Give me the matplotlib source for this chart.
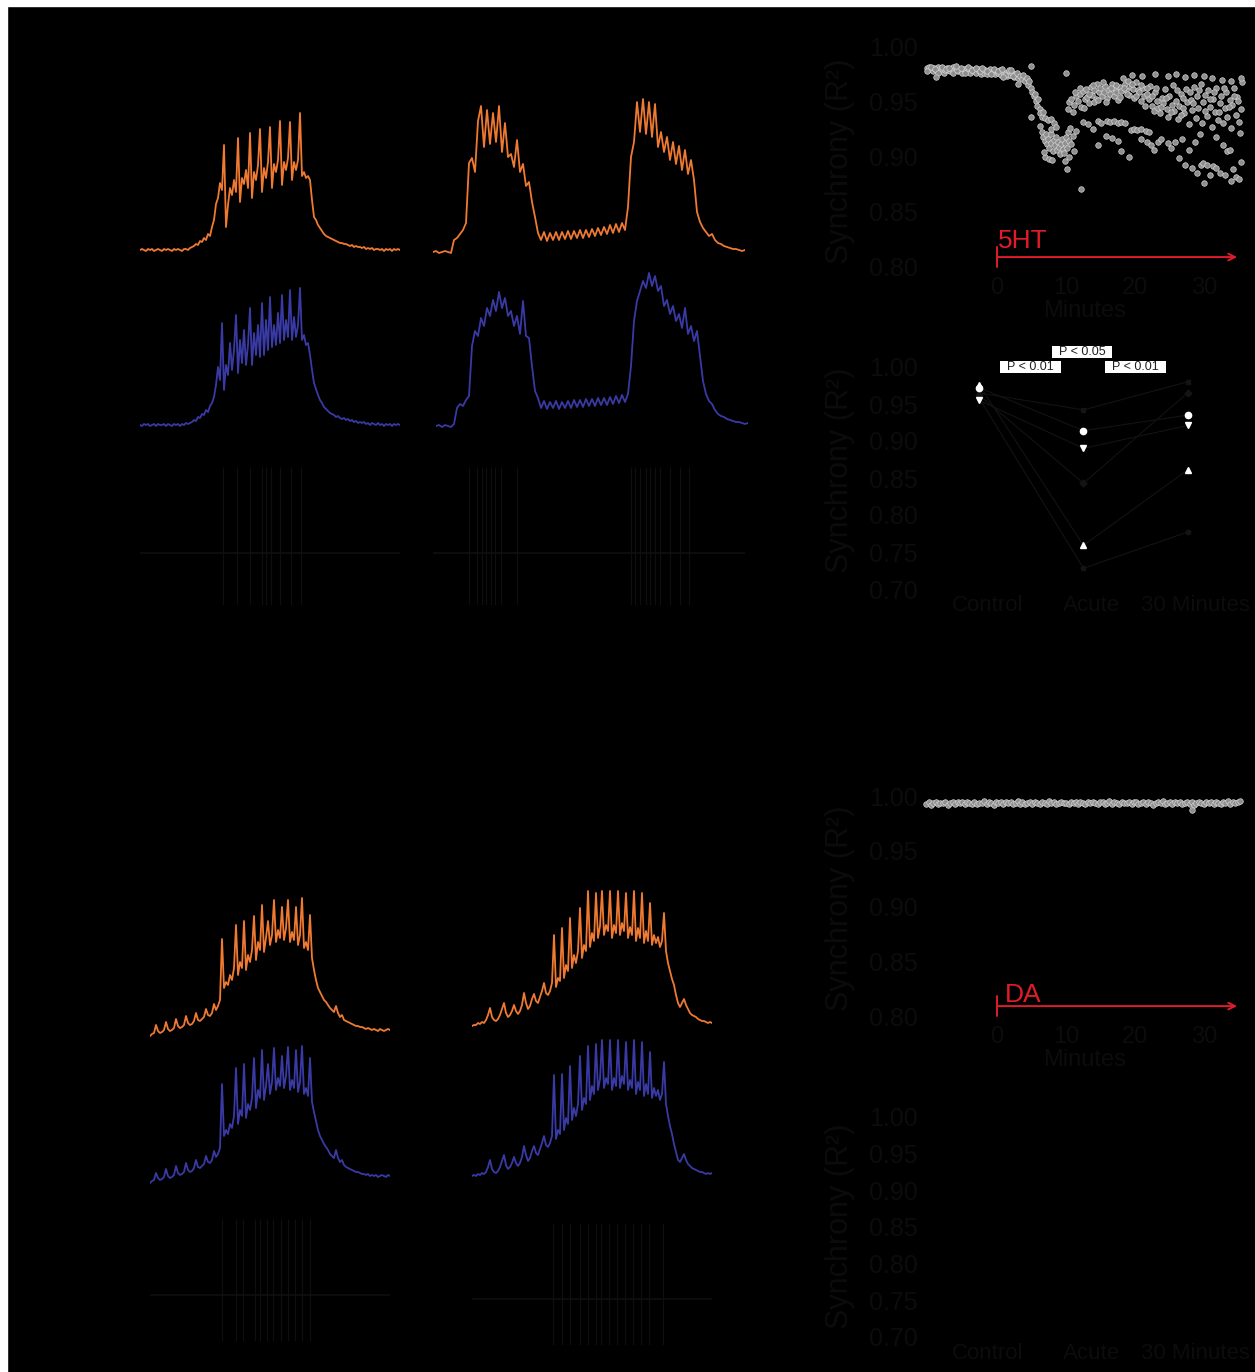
import numpy as np
import matplotlib
matplotlib.use("Agg")
import matplotlib.pyplot as plt
from matplotlib.patches import Rectangle
from matplotlib.transforms import ScaledTranslation

plt.rcParams['font.family'] = ['Liberation Sans', 'DejaVu Sans']

W, H = 1255, 1372
DARK = '#0c0c0c'
FAINT = '#0f0f0f'
ORANGE = '#f07a32'
BLUE = '#3a3aa6'
RED = '#e01c2b'

# ---- membrane traces, height above rest (a.u.), 5HT condition (top) ----
o1 = [0, 1, 0, -1, 1, 0, 1, -1, 0, 1, 0, -1, 1, 0, 1, 0, -1, 1, 0, 1, 0, -1, 1, 1, 0, 2, 3,
      4, 6, 5, 9, 8, 12, 10, 16, 14, 23, 30,
      46, 52, 67, 60, 105, 23, 45,
      62, 55, 70, 58, 112, 48, 72, 66, 80, 62, 117, 52, 78, 70, 85, 121, 58, 82, 72, 88,
      123, 62, 86, 78, 90, 129, 65, 88, 80, 92, 128, 70, 88, 80, 90, 137, 74, 78, 72, 74, 70,
      50, 33, 30, 25, 22, 19, 16, 14, 13, 12, 11, 10, 9, 8, 7, 7, 6, 6, 5, 4,
      5, 3, 4, 3, 3, 2, 3, 1, 2, 1, 2, 0, 1, 1, 0, 1, -1, 1, 0, 1, -1, 1, 0, 1, 0]
b1 = [0, -1, 1, 0, 1, -1, 0, 1, -1, 1, 0, 0, 1, -1, 1, 0, -1, 1, 0, 1, -1, 1, 0, 2, 1, 2, 3,
      5, 4, 8, 7, 11, 10, 15, 13, 19, 22, 28,
      40, 58, 45, 102, 35, 60, 50,
      82, 55, 75, 110, 52, 85, 62, 95, 60, 80, 117, 60, 92, 70, 100, 68, 122, 70, 105, 75,
      128, 78, 100, 80, 112, 82, 130, 85, 105, 88, 135, 85, 108, 88, 100, 137, 85, 90, 80, 82, 70,
      55, 42, 36, 30, 25, 22, 18, 16, 14, 12, 11, 10, 8, 9, 7, 6, 7, 5, 6, 4,
      5, 3, 4, 2, 3, 2, 3, 1, 2, 0, 2, 1, 0, 2, 0, 1, -1, 1, 0, 1, -1, 1, 0, 1, 0]
o2 = [0, 1, -1, 0, 1, 0, -1,
      12, 14, 18, 22, 29,
      89, 94, 80, 131, 146, 105, 142, 108, 139, 110, 146, 100, 129, 95, 98, 85, 112, 80, 88, 66,
      70, 50, 35, 19,
      12, 20, 11, 19, 12, 20, 12, 20, 13, 21, 13, 21, 14, 22, 14, 22, 15, 23, 16, 24,
      17, 25, 18, 27, 19, 28, 20, 29, 22,
      45, 95, 110, 150, 120, 153, 118, 150, 115, 148, 105, 120, 100, 115, 92, 110, 88, 106, 82, 102,
      78, 92, 72, 40, 30, 24, 20, 16, 18, 12, 9, 8, 6, 5, 4, 3, 3, 2, 1, 2]
b2 = [0, 1, -1, 1, 0, -1,
      2, 18, 22, 20, 26, 30, 80, 95, 90, 108, 100, 118, 110, 126, 115, 134, 118, 128, 110, 115,
      100, 110, 92, 125, 90, 88, 60, 35, 28,
      18, 25, 17, 24, 18, 25, 17, 24, 18, 25, 18, 26, 19, 26, 19, 27, 20, 27, 20, 28,
      21, 28, 21, 29, 22, 30, 23, 31, 24, 32,
      60, 105, 125, 135, 145, 138, 153, 140, 150, 135, 140, 120, 126, 112, 120, 105, 112, 98, 118, 92,
      100, 85, 95, 70, 45, 32, 25, 22, 16, 12, 10, 9, 7, 6, 5, 4, 4, 3, 2, 3]

# ---- DA condition (bottom) ----
o3 = [-6, -4, -3, 5, -1, -3, -2, 0, 8, 1, -1, 0, 2, 11, 4, 2, 3, 5, 14, 7,
      5, 6, 9, 17, 10, 9, 11, 13, 21, 15, 14, 17, 26, 20, 24, 30,
      91, 42, 48, 45, 55, 50, 62, 105, 55, 68, 62, 109, 60, 75, 68, 80, 114, 70, 88, 80,
      125, 78, 92, 109, 85, 95, 130, 88, 100, 92, 123, 90, 102, 130, 88, 98, 90, 123, 85, 95,
      132, 82, 88, 80, 115, 72,
      60, 50, 42, 38, 34, 30, 28, 25, 22, 20, 18, 24, 17, 13, 15, 10, 9, 8, 7, 6,
      5, 4, 4, 3, 3, 2, 1, 2, 1, 0, 1, 0, -1, 1, 0, -1, 0, 1, 0]
b3 = [-7, -5, -4, 3, -2, -4, -3, -1, 7, 0, -2, -1, 1, 10, 3, 1, 2, 4, 13, 6,
      4, 5, 8, 16, 9, 8, 10, 12, 20, 14, 13, 16, 25, 19, 22, 28,
      92, 40, 46, 42, 52, 48, 60, 108, 52, 66, 60, 112, 58, 72, 66, 78, 118, 68, 86, 78,
      126, 76, 90, 112, 82, 94, 128, 86, 98, 90, 120, 88, 100, 129, 86, 96, 88, 126, 84, 94,
      130, 82, 88, 80, 118, 74,
      64, 55, 46, 40, 36, 32, 29, 26, 22, 20, 18, 26, 18, 14, 16, 11, 9, 8, 7, 6,
      5, 4, 4, 3, 2, 2, 1, 2, 0, 1, 0, 1, -1, 0, 1, 0, -1, 1, 0]
o4 = [-3, -2, -2, 0, -1, 1, 0, 3, 8, 15, 6, 3, 2, 4, 8, 14, 20, 10, 6, 8,
      12, 18, 12, 9, 12, 18, 30, 20, 14, 17, 24, 29, 22, 20, 26, 32, 40, 30, 28, 32,
      40, 88, 36, 45, 42, 95, 45, 58, 52, 105, 55, 68, 60, 72, 115, 65, 78, 72, 132, 76,
      90, 82, 130, 85, 97, 132, 88, 98, 92, 132, 85, 98, 90, 132, 88, 100, 92, 130, 85, 96,
      88, 132, 82, 95, 85, 130, 80, 92, 82, 120, 78, 88, 80, 86, 76, 82, 110, 72, 60,
      52, 44, 38, 28, 20, 16, 20, 24, 18, 14, 10, 8, 7, 6, 4, 3, 2, 2, 1, 0, 1, 0]
b4 = [-2, -1, -2, 0, -1, 1, 0, 2, 7, 14, 5, 2, 1, 3, 7, 13, 19, 9, 5, 7,
      11, 17, 11, 8, 11, 17, 28, 19, 13, 16, 23, 28, 21, 19, 25, 31, 38, 29, 27, 31,
      38, 99, 35, 44, 40, 100, 44, 56, 50, 108, 54, 66, 58, 70, 118, 64, 76, 70, 128, 74,
      88, 80, 130, 84, 95, 134, 86, 96, 90, 134, 84, 96, 88, 134, 86, 98, 90, 132, 84, 94,
      86, 134, 80, 92, 84, 132, 78, 90, 80, 122, 76, 86, 78, 84, 74, 80, 112, 70, 58,
      48, 40, 30, 22, 14, 12, 16, 20, 14, 10, 8, 6, 5, 4, 3, 2, 2, 1, 0, 1, 0, 1]

# spike times (ms from trace start) for the extracellular rows
sp1 = [83, 97, 110, 122, 126, 131, 140, 151, 161]
sp2 = [36, 44, 49, 53, 58, 62, 68, 84, 198, 202, 207, 213, 217, 222, 227, 237, 247, 256]
sp3 = [72, 86, 93, 105, 110, 117, 123, 131, 138, 145, 152, 160]
sp4 = [81, 90, 98, 108, 116, 124, 129, 137, 145, 153, 161, 169, 177, 191]

# ---- synchrony over time, 5HT ----
base_min = [-10.2, -10.0, -9.8, -9.5, -9.3, -9.1, -8.9, -8.6, -8.4, -8.2,
            -8.0, -7.7, -7.5, -7.3, -7.1, -6.8, -6.6, -6.4, -6.2, -5.9,
            -5.7, -5.5, -5.3, -5.0, -4.8, -4.6, -4.4, -4.1, -3.9, -3.7,
            -3.5, -3.2, -3.0, -2.8, -2.6, -2.3, -2.1, -1.9, -1.7, -1.4,
            -1.2, -1.0, -0.8, -0.5, -0.3, -0.1, 0.1, 0.4, 0.6, 0.8,
            1.0, 1.3, 1.5, 1.7, 1.9, 2.2, 2.4, 2.6, 2.8, 3.1,
            -10.1, -9.6, -9.0, -8.5, -7.9, -7.4, -6.9, -6.3, -5.8, -5.2,
            -4.7, -4.2, -3.6, -3.1, -2.5, -2.0, -1.5, -0.9, -0.4, 0.2,
            0.7, 1.2, 1.8, 2.3, 2.9, -8.9, -6.0, -2.2, 0.9, 2.0]
base_val = [0.980, 0.978, 0.981, 0.979, 0.977, 0.980, 0.978, 0.981, 0.979, 0.977,
            0.979, 0.976, 0.978, 0.980, 0.978, 0.977, 0.979, 0.981, 0.978, 0.980,
            0.977, 0.979, 0.978, 0.976, 0.979, 0.977, 0.980, 0.978, 0.976, 0.979,
            0.977, 0.978, 0.976, 0.979, 0.977, 0.975, 0.978, 0.976, 0.978, 0.975,
            0.977, 0.979, 0.976, 0.978, 0.975, 0.977, 0.976, 0.978, 0.974, 0.977,
            0.975, 0.976, 0.973, 0.977, 0.974, 0.976, 0.972, 0.975, 0.973, 0.971,
            0.977, 0.981, 0.979, 0.976, 0.981, 0.979, 0.980, 0.976, 0.978, 0.980,
            0.976, 0.981, 0.978, 0.980, 0.977, 0.979, 0.977, 0.975, 0.979, 0.977,
            0.979, 0.974, 0.978, 0.973, 0.976, 0.972, 0.982, 0.980, 0.972, 0.978]
dip_min = [3.3, 3.6, 3.8, 4.0, 4.3, 4.5, 4.7, 5.0, 5.1, 5.3,
           5.5, 5.7, 5.8, 6.0, 6.2, 6.3, 6.5, 6.7, 7.0, 7.4,
           7.9, 8.2, 4.9, 3.0, 5.0, 6.3, 6.5, 6.7, 6.9, 7.1,
           7.2, 7.4, 7.6, 7.8, 7.9, 8.1, 8.2, 8.4, 8.5, 8.7,
           8.8, 9.0, 9.1, 9.3, 9.4, 9.6, 9.7, 9.9, 10.0, 10.2,
           10.3, 10.5, 10.6, 10.8, 11.0, 11.2, 11.4, 7.0, 7.5, 8.0,
           6.8, 9.8, 10.5, 10.1, 12.2, 7.9, 8.6, 10.0]
dip_val = [0.973, 0.970, 0.974, 0.968, 0.971, 0.965, 0.968, 0.962, 0.958, 0.955,
           0.957, 0.950, 0.946, 0.952, 0.943, 0.939, 0.936, 0.940, 0.935, 0.933,
           0.934, 0.930, 0.982, 0.966, 0.936, 0.928, 0.922, 0.918, 0.914, 0.920,
           0.911, 0.916, 0.908, 0.912, 0.920, 0.905, 0.915, 0.910, 0.918, 0.906,
           0.913, 0.909, 0.902, 0.911, 0.916, 0.907, 0.903, 0.912, 0.918, 0.908,
           0.922, 0.914, 0.926, 0.911, 0.919, 0.905, 0.923, 0.900, 0.898, 0.897,
           0.904, 0.896, 0.900, 0.889, 0.871, 0.925, 0.927, 0.976]
up_min = [10.3, 10.5, 10.8, 11.0, 11.2, 11.5, 11.7, 12.0, 12.2, 12.4,
          12.7, 12.9, 13.1, 13.4, 13.6, 13.8, 14.1, 14.3, 14.5, 14.8,
          15.0, 15.2, 15.5, 15.7, 15.9, 16.2, 16.4, 16.6, 16.9, 17.1,
          17.3, 17.6, 17.8, 18.0, 18.3, 18.5, 18.7, 19.0, 19.2, 19.4,
          19.7, 19.9, 20.1, 20.4, 20.6, 20.8, 21.1, 21.3, 21.5, 21.8,
          22.0, 22.2, 22.5, 22.7, 22.9, 23.2, 23.4, 23.6, 23.9, 24.1,
          24.3, 24.6, 24.8, 25.0, 25.3, 25.5, 25.7, 26.0, 26.2, 26.4,
          26.7, 26.9, 27.1, 27.4, 27.6, 27.8, 28.1, 28.3, 28.5, 28.8,
          29.0, 29.2, 29.5, 29.7, 29.9, 30.2, 30.4, 30.6, 30.9, 31.1,
          31.3, 31.6, 31.8, 32.0, 32.3, 32.5, 32.7, 33.0, 33.2, 33.4,
          33.7, 33.9, 34.1, 34.4, 34.6, 34.8, 35.1, 35.3, 35.5, 14.0,
          19.5, 21.0, 22.9, 24.8, 25.9, 27.3, 28.6, 30.0, 31.2, 32.6,
          33.9, 35.4, 11.3, 12.1, 12.6, 13.3, 13.9, 14.7, 15.3, 15.8,
          16.5, 17.2, 17.9, 18.4, 18.9, 19.6, 20.2, 20.9, 21.7, 22.4,
          23.1, 23.8, 24.5, 25.2, 26.1, 26.6, 27.0, 27.9, 28.4, 29.3,
          30.1, 30.8, 31.5, 32.2, 32.9, 33.6, 34.3, 35.0]
up_val = [0.943, 0.949, 0.952, 0.940, 0.947, 0.955, 0.950, 0.957, 0.945, 0.959,
          0.952, 0.961, 0.954, 0.948, 0.963, 0.956, 0.960, 0.952, 0.966, 0.958,
          0.962, 0.955, 0.958, 0.964, 0.953, 0.960, 0.957, 0.966, 0.955, 0.961,
          0.958, 0.951, 0.963, 0.959, 0.971, 0.966, 0.960, 0.968, 0.956, 0.963,
          0.961, 0.953, 0.967, 0.960, 0.958, 0.950, 0.962, 0.955, 0.946, 0.957,
          0.952, 0.964, 0.946, 0.941, 0.958, 0.950, 0.944, 0.939, 0.953, 0.948,
          0.961, 0.943, 0.936, 0.955, 0.947, 0.965, 0.941, 0.950, 0.934, 0.946,
          0.957, 0.944, 0.939, 0.961, 0.949, 0.929, 0.951, 0.942, 0.963, 0.935,
          0.955, 0.944, 0.966, 0.930, 0.949, 0.956, 0.937, 0.960, 0.945, 0.927,
          0.952, 0.940, 0.962, 0.933, 0.948, 0.955, 0.930, 0.944, 0.958, 0.936,
          0.951, 0.926, 0.947, 0.962, 0.938, 0.954, 0.931, 0.943, 0.967, 0.949,
          0.974, 0.973, 0.975, 0.973, 0.975, 0.972, 0.974, 0.973, 0.971, 0.969,
          0.968, 0.971, 0.958, 0.962, 0.944, 0.957, 0.965, 0.951, 0.967, 0.949,
          0.962, 0.965, 0.954, 0.962, 0.957, 0.966, 0.955, 0.965, 0.962, 0.955,
          0.962, 0.945, 0.953, 0.940, 0.960, 0.938, 0.953, 0.958, 0.948, 0.960,
          0.941, 0.952, 0.958, 0.940, 0.962, 0.945, 0.955, 0.950]
mid_min = [12.5, 13.2, 13.9, 14.6, 15.1, 15.9, 16.4, 17.0, 17.5, 18.0,
           18.6, 19.4, 19.9, 20.3, 20.8, 21.6, 22.1]
mid_val = [0.931, 0.929, 0.925, 0.932, 0.930, 0.932, 0.931, 0.932, 0.930, 0.931,
           0.930, 0.924, 0.925, 0.924, 0.925, 0.923, 0.922]
low_min = [14.6, 15.8, 16.6, 17.6, 18.0, 19.2, 20.9, 21.8, 22.3, 22.8,
           23.3, 23.8, 24.8, 25.2, 25.8, 26.4, 26.8, 27.3, 27.8, 28.2,
           28.7, 29.0, 29.5, 29.9, 30.4, 30.8, 31.3, 31.8, 32.3, 32.8,
           33.1, 33.4, 33.7, 33.9, 34.2, 34.6, 35.1, 35.4, 30.0, 31.7,
           29.4, 35.2]
low_val = [0.910, 0.919, 0.917, 0.914, 0.905, 0.900, 0.916, 0.913, 0.910, 0.906,
           0.913, 0.916, 0.912, 0.908, 0.913, 0.899, 0.916, 0.892, 0.906, 0.890,
           0.913, 0.885, 0.892, 0.894, 0.892, 0.883, 0.891, 0.890, 0.885, 0.910,
           0.883, 0.905, 0.906, 0.878, 0.889, 0.881, 0.880, 0.895, 0.876, 0.918,
           0.920, 0.921]

# ---- synchrony over time, DA ----
da_min = [-10.3, -9.9, -9.6, -9.2, -8.9, -8.5, -8.2, -7.8, -7.5, -7.1,
          -6.8, -6.4, -6.1, -5.7, -5.4, -5.0, -4.7, -4.3, -4.0, -3.6,
          -3.3, -2.9, -2.6, -2.2, -1.9, -1.5, -1.2, -0.8, -0.5, -0.1,
          0.2, 0.6, 0.9, 1.3, 1.6, 2.0, 2.3, 2.7, 3.0, 3.4,
          3.7, 4.1, 4.4, 4.8, 5.1, 5.5, 5.8, 6.2, 6.5, 6.9,
          7.2, 7.6, 7.9, 8.3, 8.6, 9.0, 9.3, 9.7, 10.0, 10.4,
          10.7, 11.1, 11.4, 11.8, 12.1, 12.5, 12.8, 13.2, 13.5, 13.9,
          14.2, 14.6, 14.9, 15.3, 15.6, 16.0, 16.3, 16.7, 17.0, 17.4,
          17.7, 18.1, 18.4, 18.8, 19.1, 19.5, 19.8, 20.2, 20.5, 20.9,
          21.2, 21.6, 21.9, 22.3, 22.6, 23.0, 23.3, 23.7, 24.0, 24.4,
          24.7, 25.1, 25.4, 25.8, 26.1, 26.5, 26.8, 27.2, 27.5, 27.9,
          28.2, 28.6, 28.9, 29.3, 29.6, 30.0, 30.3, 30.7, 31.0, 31.4,
          31.7, 32.1, 32.4, 32.8, 33.1, 33.5, 33.8, 34.2, 34.5, 34.9,
          35.2, 28.3]
da_val = [0.9930, 0.9945, 0.9920, 0.9938, 0.9950, 0.9925, 0.9940, 0.9932, 0.9948, 0.9922,
          0.9936, 0.9944, 0.9928, 0.9950, 0.9934, 0.9942, 0.9924, 0.9946, 0.9938, 0.9930,
          0.9948, 0.9926, 0.9940, 0.9935, 0.9952, 0.9928, 0.9943, 0.9933, 0.9920, 0.9945,
          0.9938, 0.9950, 0.9927, 0.9941, 0.9934, 0.9947, 0.9925, 0.9939, 0.9953, 0.9931,
          0.9944, 0.9923, 0.9937, 0.9949, 0.9930, 0.9942, 0.9935, 0.9926, 0.9946, 0.9938,
          0.9929, 0.9951, 0.9936, 0.9943, 0.9924, 0.9940, 0.9948, 0.9932, 0.9939, 0.9927,
          0.9945, 0.9934, 0.9950, 0.9928, 0.9941, 0.9937, 0.9923, 0.9946, 0.9933, 0.9949,
          0.9936, 0.9925, 0.9942, 0.9947, 0.9931, 0.9939, 0.9952, 0.9929, 0.9944, 0.9935,
          0.9926, 0.9948, 0.9938, 0.9932, 0.9945, 0.9924, 0.9941, 0.9950, 0.9930, 0.9937,
          0.9943, 0.9928, 0.9947, 0.9935, 0.9921, 0.9940, 0.9946, 0.9933, 0.9951, 0.9929,
          0.9938, 0.9944, 0.9927, 0.9949, 0.9934, 0.9942, 0.9925, 0.9937, 0.9948, 0.9931,
          0.9945, 0.9922, 0.9939, 0.9950, 0.9933, 0.9927, 0.9946, 0.9936, 0.9943, 0.9930,
          0.9948, 0.9935, 0.9926, 0.9944, 0.9938, 0.9951, 0.9929, 0.9941, 0.9934, 0.9947,
          0.9952, 0.9870]

# ---- per-preparation synchrony, control / acute / 30 min ----
conditions = ['Control', 'Acute', '30 Minutes']
ht_prep = [[0.976, 0.759, 0.861], [0.972, 0.914, 0.935], [0.955, 0.890, 0.921],
           [0.965, 0.942, 0.980], [0.962, 0.843, 0.965], [0.958, 0.728, 0.777]]
da_prep = [[0.994, 0.993, 0.994], [0.992, 0.991, 0.993], [0.995, 0.994, 0.993],
           [0.993, 0.992, 0.992], [0.991, 0.992, 0.993], [0.994, 0.995, 0.994]]
p_labels = ['P < 0.01', 'P < 0.05', 'P < 0.01']


def px_box(x0, y0, x1, y1):
    return [x0 / W, 1 - y1 / H, (x1 - x0) / W, (y1 - y0) / H]


fig = plt.figure(figsize=(W / 100, H / 100), dpi=100, facecolor='black')
fig.add_artist(Rectangle((0, 1 - 6 / H), 1, 6 / H, transform=fig.transFigure,
                         color='white', zorder=10))
fig.add_artist(Rectangle((0, 0), 7 / W, 1, transform=fig.transFigure,
                         color='white', zorder=10))


def draw_trace(vals, step, x0, base_y, color):
    t = np.arange(len(vals)) * step
    ax = fig.add_axes(px_box(x0, base_y - 160, x0 + t[-1], base_y + 10))
    ax.plot(t, vals, color=color, lw=1.3)
    ax.set_xlim(0, t[-1])
    ax.set_ylim(-10, 160)
    ax.axis('off')


def draw_raster(spikes, dur, x0, top, bottom):
    ax = fig.add_axes(px_box(x0, top, x0 + dur, bottom))
    ax.vlines(spikes, -0.6, 1.0, color=FAINT, lw=0.9)
    ax.axhline(0, color=FAINT, lw=1.2)
    ax.set_xlim(0, dur)
    ax.set_ylim(-0.6, 1.0)
    ax.axis('off')


draw_trace(o1, 2, 140, 250, ORANGE)
draw_trace(o2, 3, 433, 252, ORANGE)
draw_trace(b1, 2, 140, 425, BLUE)
draw_trace(b2, 3, 436, 426, BLUE)
draw_raster(sp1, 260, 140, 467, 605)
draw_raster(sp2, 312, 433, 467, 605)

draw_trace(o3, 2, 150, 1030, ORANGE)
draw_trace(o4, 2, 472, 1023, ORANGE)
draw_trace(b3, 2, 150, 1176, BLUE)
draw_trace(b4, 2, 472, 1174, BLUE)
draw_raster(sp3, 240, 150, 1219, 1341)
draw_raster(sp4, 240, 472, 1223, 1345)


def style(ax, yticks):
    ax.set_facecolor('none')
    for sp in ax.spines.values():
        sp.set_visible(False)
    ax.set_yticks(yticks)
    ax.set_yticklabels(['%.2f' % v for v in yticks])
    ax.tick_params(axis='both', length=0, colors=DARK)
    ax.tick_params(axis='y', labelsize=18, pad=5)
    ax.tick_params(axis='x', labelsize=17, pad=7)


def time_panel(y0, y1, mins, vals, drug, label_pos):
    ax = fig.add_axes(px_box(924.5, y0, 1245.4, y1))
    ax.scatter(mins, vals, s=16, c='#8e8e8e', edgecolors='#d4d4d4',
               linewidths=0.5, clip_on=False, zorder=3)
    ax.set_xlim(-10.5, 36)
    ax.set_ylim(0.80, 1.00)
    style(ax, [0.80, 0.85, 0.90, 0.95, 1.00])
    ax.set_xticks([0, 10, 20, 30])
    ax.set_xlabel('Minutes', color=DARK, fontsize=17, labelpad=1)
    ax.annotate('', xy=(34.8, 0.809), xytext=(0, 0.809),
                arrowprops=dict(arrowstyle=']->,widthA=0.6,lengthA=0',
                                color=RED, lw=1.4, shrinkA=0, shrinkB=0,
                                mutation_scale=12),
                annotation_clip=False)
    ax.text(label_pos[0], label_pos[1], drug, color=RED, fontsize=19, va='baseline')
    return ax


ax_a = time_panel(46, 267, base_min + dip_min + up_min + mid_min + low_min,
                  base_val + dip_val + up_val + mid_val + low_val, '5HT', (0.1, 0.817))
ax_c = time_panel(796, 1016, da_min, da_val, 'DA', (1.2, 0.813))

marks = ['^', 'o', 'v', 's', 'D', 'p']


def prep_panel(y0, y1, prep, visible):
    ax = fig.add_axes(px_box(925, y0, 1245, y1))
    x = [0, 1, 2]
    for i, row in enumerate(prep):
        if not visible:
            ax.plot(x, row, color='black', lw=0.8, marker=marks[i], ms=4, mfc='black', mec='black')
        elif i < 3:
            ax.plot(x, row, color='#131313', lw=0.8, zorder=2)
            ax.plot(x, row, ls='none', marker=marks[i], ms=4.5, mfc='white', mec='white',
                    zorder=4, clip_on=False)
        else:
            ax.plot(x, row, color='#131313', lw=0.8, marker=marks[i], ms=3.5,
                    mfc='#141414', mec='#141414', zorder=2)
    ax.set_xlim(-0.52, 2.55)
    ax.set_ylim(0.70, 1.00)
    style(ax, [0.70, 0.75, 0.80, 0.85, 0.90, 0.95, 1.00])
    ax.set_xticks(x)
    ax.set_xticklabels(conditions)
    ax.tick_params(axis='x', labelsize=16, pad=4)
    shift = ScaledTranslation(8 / 100, 0, fig.dpi_scale_trans)
    for lbl in ax.get_xticklabels():
        lbl.set_transform(lbl.get_transform() + shift)
    return ax


ax_b = prep_panel(367, 589, ht_prep, True)
ax_d = prep_panel(1117, 1337, da_prep, False)

for (xc, yc), lab in zip([(0.49, 1.000), (0.986, 1.020), (1.50, 1.000)], p_labels):
    ax_b.text(xc, yc, '  ' + lab + '  ', ha='center', va='center', fontsize=9,
              color='#202020', clip_on=False,
              bbox=dict(boxstyle='square,pad=0.0', fc='white', ec='none'))

for yc in [161, 470, 908, 1226]:
    fig.text(840 / W, 1 - yc / H, 'Synchrony (R²)', rotation=90, ha='center', va='center',
             fontsize=22, color=DARK)

fig.savefig('out.png', dpi=100, facecolor='black')
